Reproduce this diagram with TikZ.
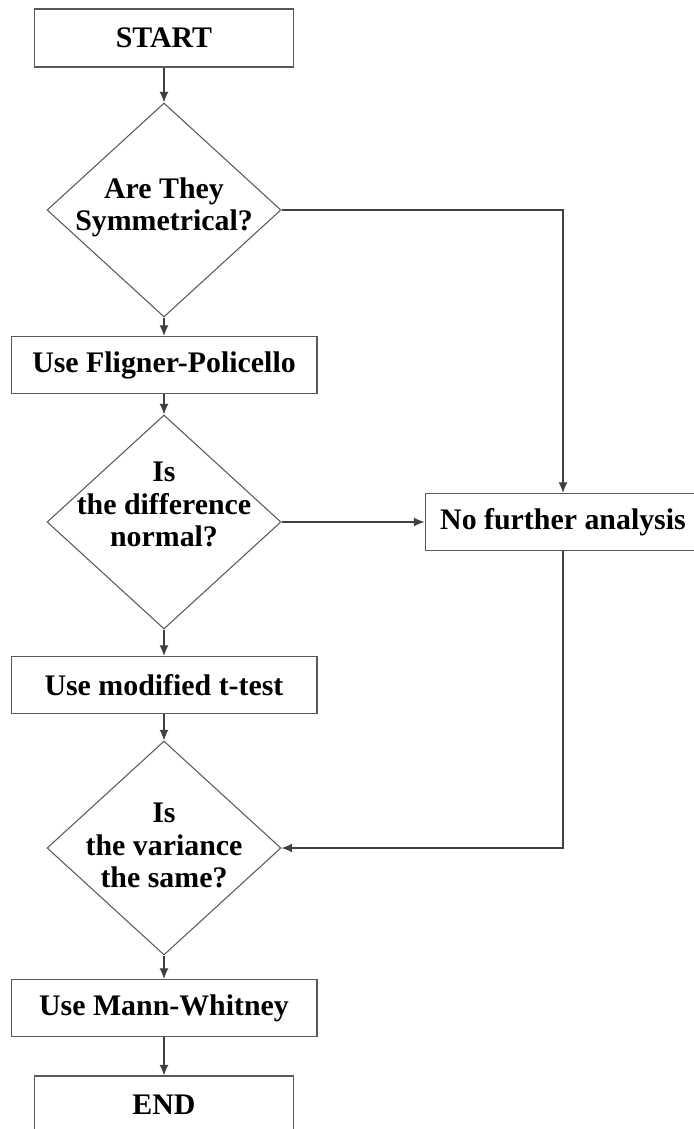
\documentclass[tikz,border=0pt]{standalone}
\usepackage{fontspec}
\setmainfont{Liberation Serif}
\usetikzlibrary{shapes.geometric,arrows.meta}

\begin{document}
\begin{tikzpicture}[x=0.02cm, y=-0.02cm,
    font=\bfseries\fontsize{17}{18.5}\selectfont,
    box/.style={draw=black!65, line width=0.6pt, minimum width=6.12cm, minimum height=1.14cm, inner sep=0pt},
    term/.style={box, minimum width=5.18cm, minimum height=1.16cm},
    decision/.style={diamond, draw=black!65, line width=0.6pt, minimum width=4.68cm, minimum height=4.28cm, inner sep=0pt},
    flow/.style={draw=black!75, line width=0.6pt, -{Latex[length=6pt,width=5pt]}}]
                \useasboundingbox (0,0) rectangle (693,1129);
                \node[term] (start) at (164,38) {START};
                \node[decision, label={[align=center, yshift=0.05cm]center:Are They\\Symmetrical?}] (sym) at (164,210) {};
                \node[box] (fp) at (164,365) {Use Fligner-Policello};
                \node[decision, label={[align=center, yshift=0.35cm]center:Is\\the difference\\normal?}] (norm) at (164,522) {};
                \node[box] (mt) at (164,685) {Use modified t-test};
                \node[decision, label={[align=center, yshift=0.05cm]center:Is\\the variance\\the same?}] (var) at (164,848) {};
                \node[box] (mw) at (164,1008) {Use Mann-Whitney};
                \node[term] (stop) at (164,1105) {END};
                \node[box, minimum width=5.52cm] (nfa) at (563,522) {No further analysis};
                \draw[flow] (start) -- (sym);
                \draw[flow] (sym) -- (fp);
                \draw[flow] (fp) -- (norm);
                \draw[flow] (norm) -- (mt);
                \draw[flow] (mt) -- (var);
                \draw[flow] (var) -- (mw);
                \draw[flow] (mw) -- (stop);
                \draw[flow] (sym.east) -| (nfa);
                \draw[flow] (norm.east) -- (nfa);
                \draw[flow] (nfa) |- (var);
            \end{tikzpicture}
\end{document}
